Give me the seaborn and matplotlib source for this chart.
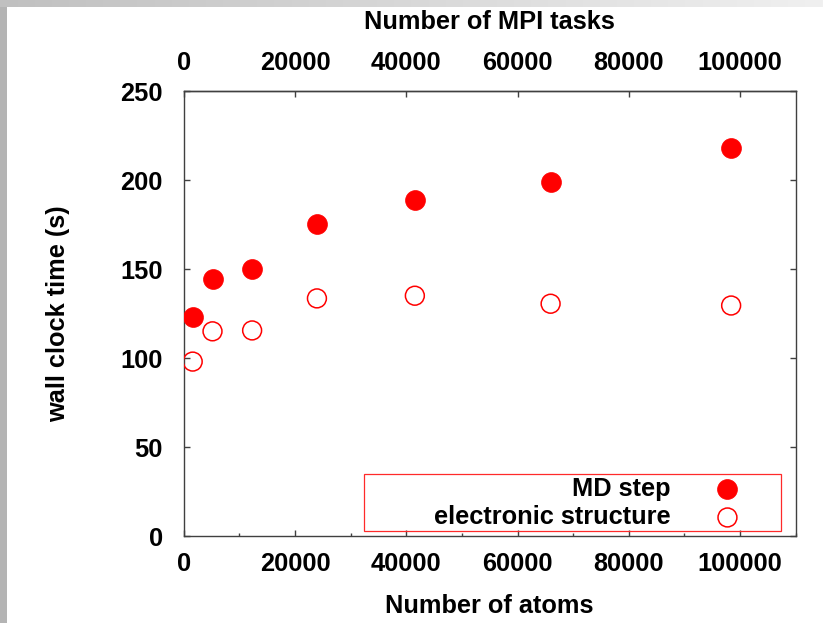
import numpy as np
import pandas as pd
import matplotlib
matplotlib.use("Agg")
import matplotlib.pyplot as plt
from matplotlib.ticker import MultipleLocator, FixedLocator, FixedFormatter
from matplotlib.patches import Rectangle
import seaborn as sns

# ---- data ----
atoms = [1620, 5180, 12300, 23950, 41550, 65950, 98400]
md_step = [123.0, 144.5, 150.0, 175.5, 189.0, 199.0, 218.0]
electronic = [98.0, 115.0, 115.5, 133.5, 135.0, 130.5, 129.5]
series_names = ["MD step", "electronic structure"]
x_ticks = [0, 20000, 40000, 60000, 80000, 100000]
x_tick_labels = ["0", "20000", "40000", "60000", "80000", "100000"]
y_ticks = [0, 50, 100, 150, 200, 250]
y_tick_labels = ["0", "50", "100", "150", "200", "250"]

sns.set_style("ticks")
plt.rcParams["font.family"] = ["Liberation Sans", "DejaVu Sans"]
plt.rcParams["font.weight"] = "bold"
plt.rcParams["axes.labelweight"] = "bold"
plt.rcParams["text.color"] = "black"
plt.rcParams["axes.labelcolor"] = "black"
plt.rcParams["xtick.labelcolor"] = "black"
plt.rcParams["ytick.labelcolor"] = "black"
FS = 18.3

df_md = pd.DataFrame({"atoms": atoms, "time": md_step})
df_el = pd.DataFrame({"atoms": atoms, "time": electronic})

fig = plt.figure(figsize=(8.23, 6.23), dpi=100)
fig.patch.set_facecolor("white")

# slide-like gray border strips
left_strip = np.ones((623, 7, 3)) * (0xb4 / 255)
fig.figimage(left_strip, xo=0, yo=0, origin="upper")
grad = np.linspace(0xc0 / 255, 0xf0 / 255, 823)
top_strip = np.ones((7, 823, 3)) * grad[None, :, None]
fig.figimage(top_strip, xo=0, yo=616, origin="upper")

ax = fig.add_axes([0.2232, 0.1396, 0.7436, 0.7143])
ax.set_facecolor("white")

red = "#ff0000"
sns.scatterplot(data=df_md, x="atoms", y="time", ax=ax, color=red,
                edgecolor=red, linewidth=0.5, s=205, marker="o",
                label=series_names[0], zorder=3)
sns.scatterplot(data=df_el, x="atoms", y="time", ax=ax, facecolor="none",
                edgecolor=red, linewidth=1.1, s=185, marker="o",
                label=series_names[1], zorder=3)

ax.set_xlim(0, 110000)
ax.set_ylim(0, 250)

for sp in ax.spines.values():
    sp.set_visible(True)
    sp.set_color("#404040")
    sp.set_linewidth(1.0)

ax.xaxis.set_major_locator(FixedLocator(x_ticks))
ax.xaxis.set_major_formatter(FixedFormatter(x_tick_labels))
ax.xaxis.set_minor_locator(MultipleLocator(10000))
ax.yaxis.set_major_locator(FixedLocator(y_ticks))
ax.yaxis.set_major_formatter(FixedFormatter(y_tick_labels))

ax.tick_params(axis="both", which="major", direction="in", length=4,
               width=1.0, color="#404040", labelsize=FS, labelcolor="black")
ax.tick_params(axis="x", which="major", pad=11.5, bottom=True, top=False)
ax.tick_params(axis="x", which="minor", direction="in", length=2.2,
               width=1.0, color="#404040", bottom=True, top=False)
ax.tick_params(axis="y", which="major", pad=15, left=True, right=True)
ax.tick_params(axis="y", which="minor", left=False, right=False)
for lab in ax.get_xticklabels() + ax.get_yticklabels():
    lab.set_fontweight("bold")

ax.set_xlabel("Number of atoms", fontsize=FS, fontweight="bold", labelpad=13,
              color="black")
ax.set_ylabel("wall clock time (s)", fontsize=FS, fontweight="bold", labelpad=36,
              color="black")

sec = ax.secondary_xaxis("top")
sec.xaxis.set_major_locator(FixedLocator(x_ticks))
sec.xaxis.set_major_formatter(FixedFormatter(x_tick_labels))
sec.tick_params(axis="x", which="major", direction="in", length=4, width=1.0,
                color="#404040", labelsize=FS, pad=11.5, labelcolor="black")
sec.tick_params(axis="x", which="minor", top=False)
sec.spines["top"].set_color("#404040")
sec.spines["top"].set_linewidth(1.0)
for lab in sec.get_xticklabels():
    lab.set_fontweight("bold")
sec.set_xlabel("Number of MPI tasks", fontsize=FS, fontweight="bold",
               labelpad=16, color="black")

# legend
leg = ax.legend(loc="center right", bbox_to_anchor=(0.9093, 0.074),
                frameon=False, markerfirst=False,
                handlelength=1.0, handletextpad=1.74, labelspacing=0.16,
                borderpad=0, borderaxespad=0, prop={"weight": "bold", "size": FS})
for t in leg.get_texts():
    t.set_color("black")
ax.add_patch(Rectangle((0.2951, 0.0119), 0.6804, 0.1274, transform=ax.transAxes,
                       fill=False, edgecolor="#ff2a2a", linewidth=0.9, zorder=2))

fig.savefig("out.png", dpi=100)
